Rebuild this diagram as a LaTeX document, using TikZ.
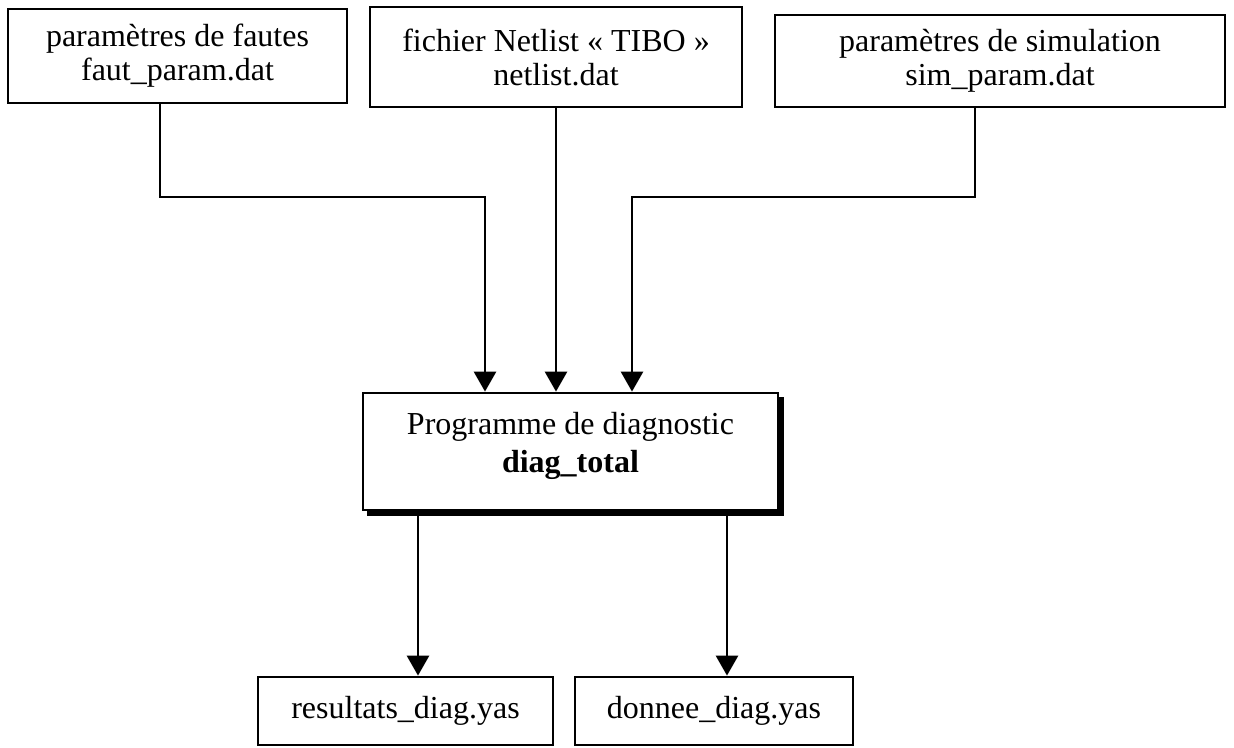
\documentclass[tikz,border=0pt]{standalone}
\usepackage{fontspec}
\setmainfont{Liberation Serif}
\usetikzlibrary{arrows.meta,backgrounds}
\begin{document}
\begin{tikzpicture}[x=1pt,y=-1pt,
  box/.style={draw,line width=2.8pt,fill=white,align=center,
    font=\fontsize{32}{34}\selectfont,inner sep=0pt},
  txt/.style={align=center,font=\fontsize{32}{38}\selectfont,inner sep=0pt},
  link/.style={line width=2.8pt,-{Triangle[width=22pt,length=20pt]}}]
\useasboundingbox (0,0) rectangle (1234,747);

% input files
\node[box,minimum width=339pt,minimum height=94pt] (b1) at (177.5,56)
  {paramètres de fautes\\faut\_param.dat};
\node[box,minimum width=372pt,minimum height=100pt] (b2) at (556,57)
  {fichier Netlist « TIBO »\\netlist.dat};
\node[box,minimum width=450pt,minimum height=92pt] (b3) at (1000,61)
  {paramètres de simulation\\sim\_param.dat};

% main program with its shadow
\node[box,minimum width=415pt,minimum height=117pt] (diag) at (570.5,451.5) {};
\node[txt] (diagtxt) at ([yshift=6pt]diag.center)
  {Programme de diagnostic\\\textbf{diag\_total}};
\begin{scope}[on background layer]
  \fill[black] ([shift={(5,5)}]diag.south west) rectangle ([shift={(5,5)}]diag.north east);
\end{scope}

% output files
\node[box,minimum width=295pt,minimum height=68pt] (o1) at (405.5,711) {resultats\_diag.yas};
\node[box,minimum width=278pt,minimum height=68pt] (o2) at (714,711) {donnee\_diag.yas};

% connectors
\coordinate (k1) at (160,197);
\coordinate (k3) at (975,197);
\draw[link] (b1.south -| k1) -- (k1) -| ([xshift=-85.5pt]diag.north);
\draw[link] (b2.south) -- (b2.south |- diag.north);
\draw[link] (b3.south -| k3) -- (k3) -| ([xshift=61.5pt]diag.north);
\draw[link] ([shift={(-152.5,5)}]diag.south) -- ([xshift=-152.5pt]diag.south |- o1.north);
\draw[link] ([shift={(156.5,5)}]diag.south) -- ([xshift=156.5pt]diag.south |- o2.north);
\end{tikzpicture}
\end{document}
